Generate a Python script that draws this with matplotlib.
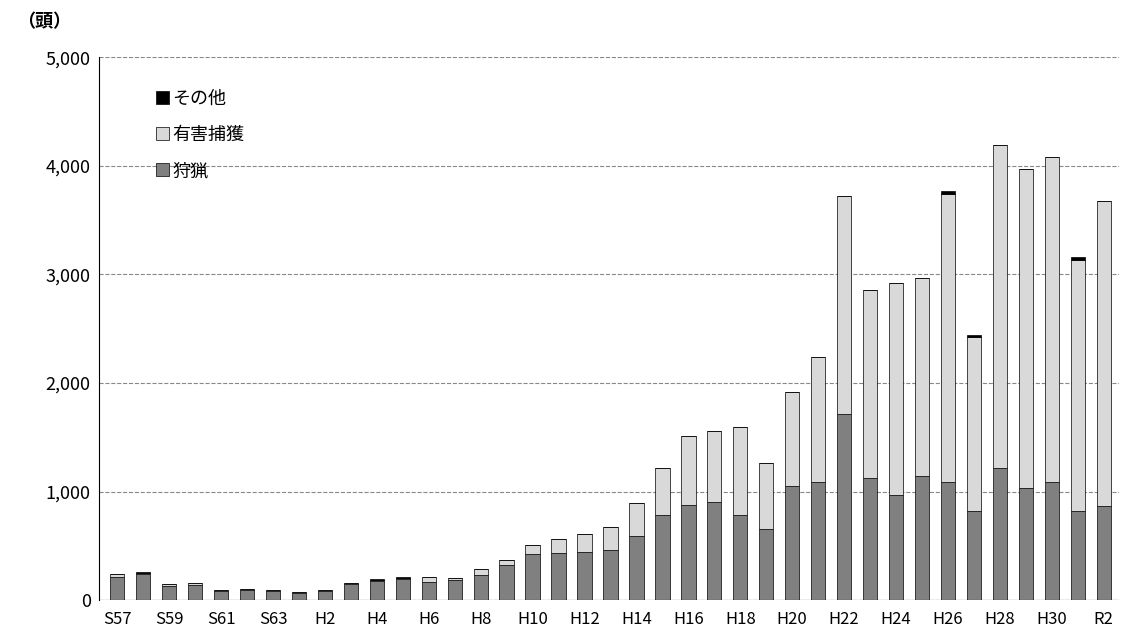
import matplotlib
matplotlib.use("Agg")
import matplotlib.pyplot as plt
import numpy as np

plt.rcParams['font.family'] = ['Noto Sans CJK JP', 'DejaVu Sans']

years = ["S57","S58","S59","S60","S61","S62","S63"] + [f"H{i}" for i in range(1,31)] + ["R1","R2"]
hunting = [210,240,130,140,85,95,80,65,80,145,175,190,170,185,235,320,420,430,445,460,590,780,880,900,780,650,1050,1090,1710,1120,970,1140,1090,820,1220,1030,1090,820,870]
harmful = [30,10,20,15,10,10,15,10,15,10,10,15,40,15,55,50,90,130,165,210,300,440,630,660,810,610,870,1150,2010,1740,1950,1830,2650,1600,2970,2940,2990,2310,2810]
other = [0,5,0,5,0,0,0,0,0,5,5,5,0,5,0,0,0,0,0,0,0,0,0,0,0,0,0,0,0,0,0,0,30,25,0,0,0,30,0]

fig, ax = plt.subplots(figsize=(11.25,6.37), dpi=100)
fig.subplots_adjust(left=0.088, right=0.995, top=0.91, bottom=0.058)
x = np.arange(len(years))
h = np.array(hunting); m = np.array(harmful); o = np.array(other)
w = 0.55
ax.bar(x, h, w, color='#808080', edgecolor='black', linewidth=0.5, label='狩猟', zorder=3)
ax.bar(x, m, w, bottom=h, color='#d9d9d9', edgecolor='black', linewidth=0.5, label='有害捕獲', zorder=3)
ax.bar(x, o, w, bottom=h+m, color='black', edgecolor='black', linewidth=0.5, label='その他', zorder=3)

ax.set_ylim(0,5000)
ax.set_xlim(-0.7, len(years)-0.4)
ax.set_yticks(range(0,5001,1000))
ax.set_yticklabels([f"{v:,}" for v in range(0,5001,1000)], fontsize=13)
ax.set_xticks(x[::2])
ax.set_xticklabels(years[::2], fontsize=12)
ax.tick_params(axis='x', length=0, pad=8)
ax.tick_params(axis='y', length=0, pad=6)
ax.yaxis.grid(True, linestyle='--', color='#888888', linewidth=0.8, zorder=0)
for s in ['top','right','bottom']:
    ax.spines[s].set_visible(False)
ax.spines['left'].set_color('black')
ax.axhline(0, color='black', linewidth=0.8, zorder=4)
ax.text(-0.08, 1.055, '（頭）', transform=ax.transAxes, fontsize=13, fontweight='bold')

handles, labels = ax.get_legend_handles_labels()
leg = ax.legend(handles[::-1], labels[::-1], loc='upper left', bbox_to_anchor=(0.04, 0.97),
                frameon=False, fontsize=13, handlelength=0.7, handleheight=0.7,
                handletextpad=0.2, labelspacing=1.0)
fig.savefig('out.png')
